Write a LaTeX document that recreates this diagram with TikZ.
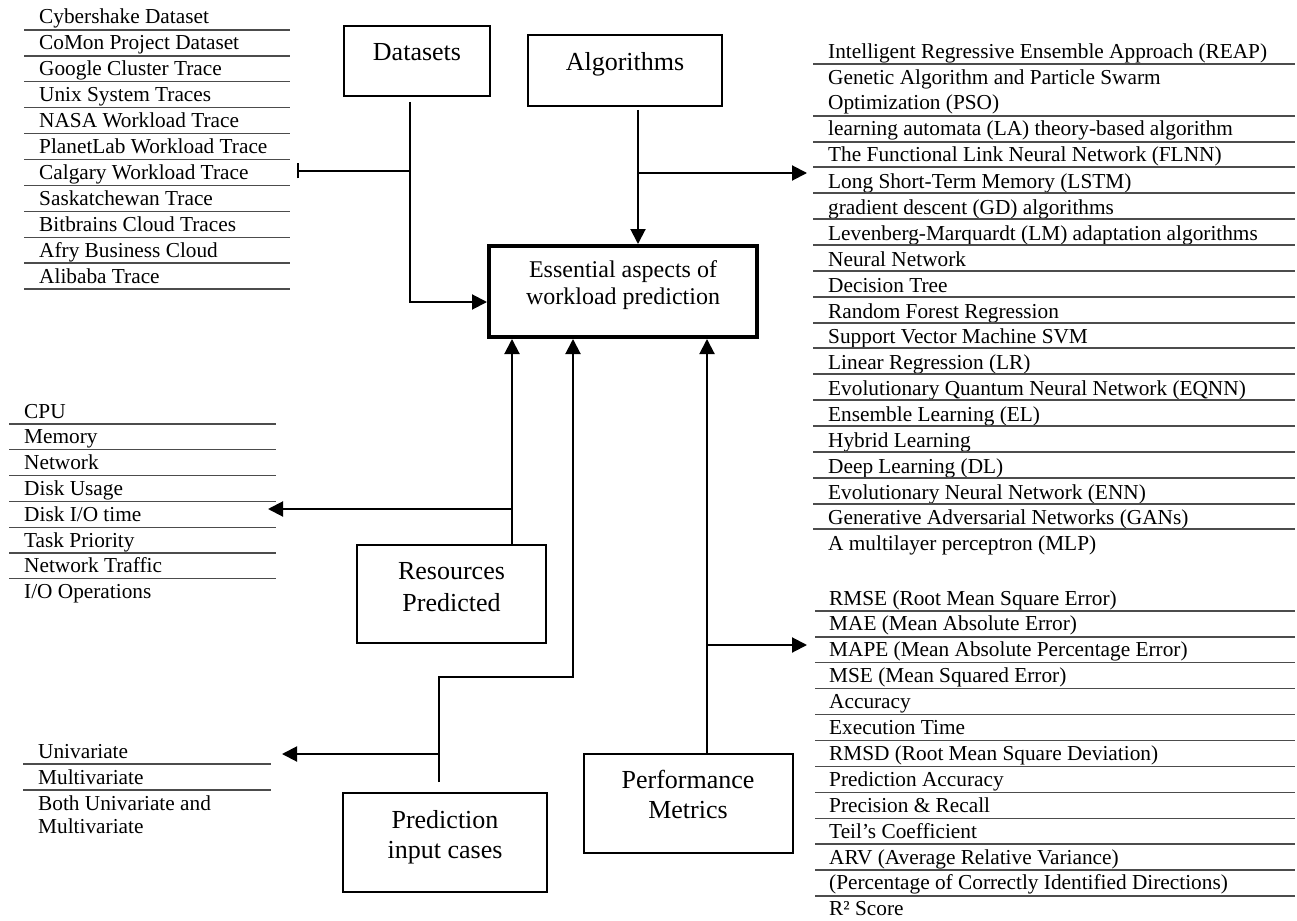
\documentclass[tikz,border=0pt]{standalone}
\usepackage{fontspec}
\setmainfont{Liberation Serif}
\usetikzlibrary{arrows.meta}
\begin{document}
\begin{tikzpicture}[x=1pt,y=-1pt,
  box/.style={draw, line width=2pt, inner sep=0pt},
  mainbox/.style={draw, line width=4pt, inner sep=0pt},
  boxlbl/.style={anchor=base, inner sep=0pt, font=\fontsize{26}{30}\selectfont},
  mainlbl/.style={anchor=base, inner sep=0pt, font=\fontsize{24}{27}\selectfont},
  item/.style={anchor=base west, inner sep=0pt, font=\fontsize{21.3}{25}\selectfont},
  rule/.style={draw=black!70, line width=1.3pt},
  conn/.style={line width=2pt},
  arr/.style={conn, -{Triangle[length=15pt,width=15pt]}},
]
\useasboundingbox (0,0) rectangle (1297,920);

% ---------- boxes ----------
\node[box, minimum width=146pt, minimum height=70pt] (ds) at (417,61) {};
\node[boxlbl] (dsT) at (417,61) {Datasets};
\node[box, minimum width=194pt, minimum height=71pt] (alg) at (625,70.5) {};
\node[boxlbl] (algT) at (625,71) {Algorithms};
\node[mainbox, minimum width=268pt, minimum height=91pt] (main) at (623,291.5) {};
\node[mainlbl] (mainT1) at (623,277) {Essential aspects of};
\node[mainlbl] (mainT2) at (623,304) {workload prediction};
\node[box, minimum width=189pt, minimum height=98pt] (res) at (451.5,594) {};
\node[boxlbl] (resT1) at (451.5,579) {Resources};
\node[boxlbl] (resT2) at (451.5,611) {Predicted};
\node[box, minimum width=204pt, minimum height=99pt] (pic) at (445,842.5) {};
\node[boxlbl] (picT1) at (445,828) {Prediction};
\node[boxlbl] (picT2) at (445,858) {input cases};
\node[box, minimum width=209pt, minimum height=99pt] (pm) at (688,803.5) {};
\node[boxlbl] (pmT1) at (688,788) {Performance};
\node[boxlbl] (pmT2) at (688,818) {Metrics};

% ---------- datasets list ----------
\foreach \t [count=\i from 0] in {Cybershake Dataset, CoMon Project Dataset, Google Cluster Trace, Unix System Traces, NASA Workload Trace, PlanetLab Workload Trace, Calgary Workload Trace, Saskatchewan Trace, Bitbrains Cloud Traces, Afry Business Cloud, Alibaba Trace} {
  \node[item] (dsi\i) at (39,24+25.9*\i) {\t};
  \draw[rule] (24,30+25.9*\i) -- (290,30+25.9*\i);
}

% ---------- algorithms list ----------
\foreach \b/\t [count=\i] in {59/Intelligent Regressive Ensemble Approach (REAP), 85/Genetic Algorithm and Particle Swarm, 110/Optimization (PSO), 136/learning automata (LA) theory-based algorithm, 162/The Functional Link Neural Network (FLNN), 188/Long Short-Term Memory (LSTM), 214/gradient descent (GD) algorithms, 240/Levenberg-Marquardt (LM) adaptation algorithms, 266/Neural Network, 292/Decision Tree, 318/Random Forest Regression, 343/Support Vector Machine SVM, 369/Linear Regression (LR), 395/Evolutionary Quantum Neural Network (EQNN), 421/Ensemble Learning (EL), 447/Hybrid Learning, 473/Deep Learning (DL), 499/Evolutionary Neural Network (ENN), 524/Generative Adversarial Networks (GANs), 550/A multilayer perceptron (MLP)} {
  \node[item] (algi\i) at (828,\b) {\t};
}
\foreach \y in {64,116,142,167,193,219,245,271,297,323,348,374,400,426,452,478,504,529} {
  \draw[rule] (813,\y) -- (1295,\y);
}

% ---------- resources list ----------
\foreach \t [count=\i from 0] in {CPU, Memory, Network, Disk Usage, Disk I/O time, Task Priority, Network Traffic, I/O Operations} {
  \node[item] (resi\i) at (24,418+25.8*\i) {\t};
}
\foreach \i in {0,...,6} {
  \draw[rule] (9,424+25.8*\i) -- (276,424+25.8*\i);
}

% ---------- input cases list ----------
\node[item] (pici1) at (38,758) {Univariate};
\node[item] (pici2) at (38,784) {Multivariate};
\node[item] (pici3) at (38,810) {Both Univariate and};
\node[item] (pici4) at (38,833) {Multivariate};
\draw[rule] (23,764) -- (271,764);
\draw[rule] (23,790) -- (271,790);

% ---------- metrics list ----------
\foreach \t [count=\i from 0] in {RMSE (Root Mean Square Error), MAE (Mean Absolute Error), MAPE (Mean Absolute Percentage Error), MSE (Mean Squared Error), Accuracy, Execution Time, RMSD (Root Mean Square Deviation), Prediction Accuracy, Precision \& Recall, Teil’s Coefficient, ARV (Average Relative Variance), (Percentage of Correctly Identified Directions), R² Score} {
  \node[item] (pmi\i) at (829,605+25.9*\i) {\t};
}
\foreach \i in {0,...,11} {
  \draw[rule] (815,611+25.9*\i) -- (1295,611+25.9*\i);
}

% ---------- connectors ----------
% Datasets
\coordinate (dsTick) at (297,171);
\coordinate (dsJ) at (410,171);
\coordinate (dsTop) at (410,102);
\coordinate (dsBot) at (410,302);
\draw[conn, {Bar[width=15pt]}-] (dsTick) -- (dsJ);
\draw[arr] (dsTop) -- (dsBot) -- (main.west |- dsBot);

% Algorithms
\coordinate (algBot) at (638,110);
\coordinate (algJ) at (638,173);
\coordinate (algTip) at (807,173);
\draw[arr] (algBot) -- (main.north -| algBot);
\draw[arr] (algJ) -- (algTip);

% Resources
\coordinate (resX) at (512,0);
\coordinate (resJ) at (512,509);
\coordinate (resTip) at (268,509);
\draw[arr] (res.north -| resX) -- (main.south -| resX);
\draw[arr] (resJ) -- (resTip);

% Prediction input cases
\coordinate (piA) at (439,782);
\coordinate (piB) at (439,677);
\coordinate (piC) at (573,677);
\coordinate (piJ) at (439,754);
\coordinate (piTip) at (282,754);
\draw[arr] (piA) -- (piB) -- (piC) -- (main.south -| piC);
\draw[arr] (piJ) -- (piTip);

% Performance metrics
\coordinate (pmX) at (707,0);
\coordinate (pmJ) at (707,645);
\coordinate (pmTip) at (807,645);
\draw[arr] (pm.north -| pmX) -- (main.south -| pmX);
\draw[arr] (pmJ) -- (pmTip);
\end{tikzpicture}
\end{document}
